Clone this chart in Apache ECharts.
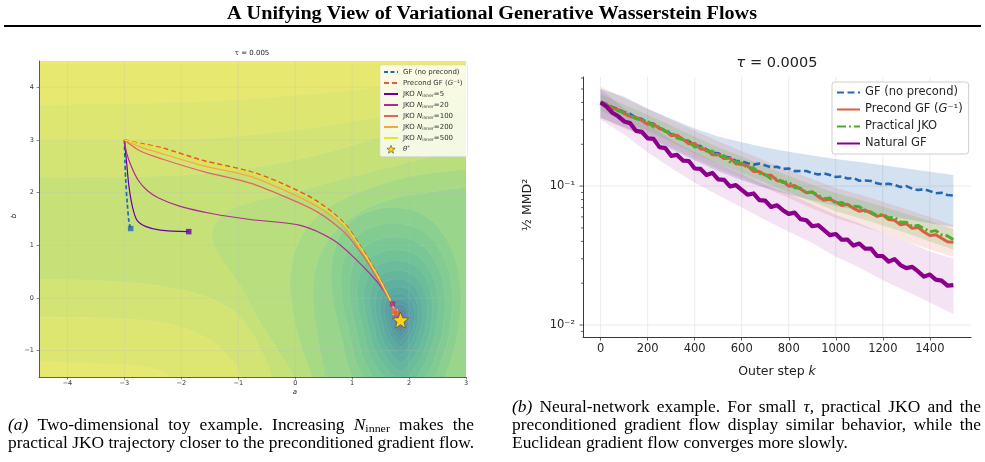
<!DOCTYPE html>
<html>
<head>
<meta charset="utf-8">
<title>A Unifying View of Variational Generative Wasserstein Flows</title>
<script src="https://cdn.jsdelivr.net/npm/echarts@6.0.0/dist/echarts.min.js"></script>
<style>
  html, body { margin: 0; padding: 0; background: #fff; }
  #chart { width: 985px; height: 462px; }
</style>
</head>
<body>
<div id="chart"></div>
<script>
// ---------- (a) toy example ----------
const toyTicksA = [-4, -3, -2, -1, 0, 1, 2, 3]
const toyTicksB = [-1, 0, 1, 2, 3, 4]
const thetaStar = [1.85, -0.42]

// trajectories, all start at theta0 = (-3, 3)
const pathGF = [[-3, 3], [-2.99, 2.6], [-2.975, 2.2], [-2.95, 1.8], [-2.92, 1.45], [-2.89, 1.32]]
const pathPrecond = [[-3, 3], [-2.7, 2.93], [-2.31, 2.84], [-1.61, 2.61], [-0.79, 2.4], [-0.2, 2.16], [0.38, 1.84], [0.85, 1.43], [1.14, 0.99], [1.43, 0.48], [1.67, -0.03], [1.78, -0.3]]
const pathJko5 = [[-3, 3], [-2.96, 2.56], [-2.92, 2.12], [-2.86, 1.74], [-2.78, 1.48], [-2.63, 1.36], [-2.37, 1.29], [-1.87, 1.26]]
const pathJko20 = [[-3, 3], [-2.96, 2.75], [-2.88, 2.5], [-2.76, 2.24], [-2.6, 2.04], [-2.4, 1.9], [-2.02, 1.74], [-1.45, 1.6], [-0.79, 1.49], [0.09, 1.38], [0.67, 1.1], [1.08, 0.72], [1.43, 0.32], [1.62, 0.04], [1.71, -0.11]]
const pathJko100 = [[-3, 3], [-2.72, 2.79], [-2.31, 2.63], [-1.61, 2.4], [-0.79, 2.18], [-0.2, 1.93], [0.38, 1.64], [0.85, 1.26], [1.14, 0.88], [1.43, 0.4], [1.66, -0.06], [1.74, -0.25]]
const pathJko200 = [[-3, 3], [-2.75, 2.88], [-2.31, 2.73], [-1.61, 2.51], [-0.79, 2.31], [-0.2, 2.05], [0.38, 1.74], [0.85, 1.36], [1.14, 0.94], [1.43, 0.44], [1.67, -0.05], [1.75, -0.26]]
const pathJko500 = [[-3, 3], [-2.7, 2.92], [-2.31, 2.82], [-1.61, 2.58], [-0.79, 2.38], [-0.2, 2.13], [0.38, 1.81], [0.85, 1.41], [1.14, 0.97], [1.43, 0.46], [1.67, -0.04], [1.76, -0.27]]

// filled contour regions of the loss surface, outer -> inner
const regionR9 = [[-6, 4.45], [5, 4.45], [5, -3], [-6, -3]]
const regionR8 = [[-6, 3.67], [-5.2, 3.67], [-4.6, 3.67], [-2, 3.72], [-0.8, 3.79], [1, 3.95], [3, 4.2], [3.6, 4.28], [4.2, 4.35], [5, 4.35], [5, -3], [-1.9, -3], [-2.05, -2.2], [-2.15, -1.8], [-2.2, -1.5], [-2.6, -1.32], [-3.5, -1.25], [-4.6, -1.21], [-5.2, -1.2], [-6, -1.2]]
const regionR7 = [[-6, 3.0], [-5.2, 3.0], [-4.6, 3.0], [-2, 3.02], [-0.8, 3.1], [1, 3.35], [2, 3.6], [3, 3.85], [3.6, 4.0], [4.2, 4.15], [5, 4.15], [5, -3], [-0.75, -3], [-0.85, -2.1], [-0.95, -1.5], [-1.1, -1.2], [-1.5, -0.8], [-2.2, -0.5], [-3, -0.4], [-4.6, -0.36], [-5.2, -0.35], [-6, -0.35]]
const regionR6 = [[-6, 2.29], [-5.2, 2.29], [-4.6, 2.29], [-2, 2.33], [-0.96, 2.44], [0.5, 2.75], [1.49, 3.07], [2.3, 3.35], [3, 3.6], [3.6, 3.8], [4.2, 3.95], [5, 3.95], [5, -3], [-0.2, -3], [-0.3, -2.1], [-0.41, -1.5], [-0.6, -1.0], [-0.9, -0.45], [-1.3, -0.1], [-2, 0.15], [-3, 0.3], [-4.6, 0.36], [-5.2, 0.37], [-6, 0.37]]
const regionR5 = [[0.2, -3], [0.1, -2.1], [-0.03, -1.5], [-0.3, -1.0], [-0.65, -0.4], [-1.0, 0.3], [-1.3, 0.75], [-1.46, 1.15], [-1.35, 1.5], [-1.0, 1.74], [0, 2.02], [1, 2.3], [2, 2.58], [3, 2.85], [3.6, 3.0], [4.2, 3.1], [5, 3.1], [5, -3]]
const regionR4 = [[0.5, -3], [0.4, -2.1], [0.29, -1.5], [0.1, -0.9], [-0.05, -0.2], [-0.08, 0.5], [0.1, 1.15], [0.5, 1.65], [1.1, 2.0], [2.0, 2.3], [3, 2.45], [3.6, 2.55], [4.2, 2.6], [5, 2.6], [5, -3]]
const regionR3 = [[0.7, -3], [0.62, -2.1], [0.53, -1.5], [0.4, -0.8], [0.32, -0.1], [0.35, 0.5], [0.55, 1.05], [0.95, 1.5], [1.6, 1.85], [2.3, 2.0], [3, 2.1], [3.6, 2.15], [4.2, 2.2], [5, 2.2], [5, -3]]
// inner teardrop contours around theta*: one shape, several sizes
const ringTemplate = [[0.05, -1.9], [0.45, -1.4], [0.74, -0.75], [0.9, 0.0], [0.9, 0.7], [0.72, 1.3], [0.4, 1.7], [0, 1.85], [-0.45, 1.8], [-0.82, 1.55], [-1.02, 1.1], [-1.05, 0.5], [-0.92, -0.2], [-0.75, -0.9], [-0.4, -1.5]]
const ringScale = [1.15, 0.99, 0.85, 0.72, 0.61, 0.51, 0.42, 0.34, 0.27, 0.21, 0.16, 0.12, 0.085, 0.055, 0.03]

// ---------- (b) neural-network example ----------
const stepTicks = [0, 200, 400, 600, 800, 1000, 1200, 1400]
const mmdMajorTicks = [0.01, 0.1]
const mmdMinorTicks = [0.009, 0.02, 0.03, 0.04, 0.05, 0.06, 0.07, 0.08, 0.09, 0.2, 0.3, 0.4, 0.5, 0.6]
const steps = [0, 25, 50, 75, 100, 125, 150, 175, 200, 225, 250, 275, 300, 325, 350, 375, 400, 425, 450, 475, 500, 525, 550, 575, 600, 625, 650, 675, 700, 725, 750, 775, 800, 825, 850, 875, 900, 925, 950, 975, 1000, 1025, 1050, 1075, 1100, 1125, 1150, 1175, 1200, 1225, 1250, 1275, 1300, 1325, 1350, 1375, 1400, 1425, 1450, 1475, 1500]
const gfLoss = [0.405, 0.390, 0.370, 0.3586, 0.340, 0.3315, 0.3118, 0.3037, 0.2871, 0.2807, 0.2612, 0.2541, 0.2364, 0.2324, 0.2163, 0.2106, 0.1960, 0.1942, 0.1839, 0.1741, 0.1726, 0.1629, 0.1608, 0.1517, 0.1512, 0.1463, 0.1427, 0.1451, 0.141, 0.1366, 0.1379, 0.1329, 0.134, 0.1282, 0.1285, 0.1286, 0.1238, 0.1214, 0.1233, 0.1203, 0.1162, 0.1174, 0.1133, 0.1144, 0.1093, 0.1098, 0.1088, 0.1050, 0.1029, 0.1040, 0.1019, 0.0984, 0.1000, 0.0958, 0.0938, 0.0950, 0.0920, 0.0889, 0.0896, 0.0862, 0.0855]
const precondLoss = [0.400, 0.387, 0.362, 0.355, 0.333, 0.317, 0.312, 0.297, 0.279, 0.281, 0.258, 0.251, 0.231, 0.232, 0.2165, 0.202, 0.203, 0.185, 0.183, 0.168, 0.169, 0.158, 0.159, 0.145, 0.143, 0.140, 0.1276, 0.1275, 0.120, 0.1197, 0.1094, 0.1083, 0.0999, 0.101, 0.0952, 0.0897, 0.0906, 0.0840, 0.0793, 0.0804, 0.0768, 0.0724, 0.0741, 0.0692, 0.066, 0.0672, 0.0639, 0.0607, 0.0618, 0.0574, 0.0567, 0.0527, 0.0536, 0.0497, 0.0504, 0.0467, 0.0441, 0.0447, 0.0421, 0.0397, 0.0394]
const jkoLoss = [0.400, 0.379, 0.370, 0.348, 0.338, 0.322, 0.306, 0.300, 0.291, 0.267, 0.266, 0.247, 0.245, 0.222, 0.2165, 0.211, 0.191, 0.1935, 0.179, 0.1785, 0.163, 0.1655, 0.1495, 0.150, 0.146, 0.1357, 0.1354, 0.1237, 0.121, 0.1127, 0.1138, 0.1061, 0.1075, 0.0973, 0.0967, 0.0895, 0.0908, 0.0858, 0.0811, 0.0822, 0.0747, 0.0764, 0.0722, 0.0716, 0.0711, 0.0657, 0.0651, 0.0614, 0.0627, 0.0591, 0.0596, 0.0551, 0.0550, 0.0512, 0.0521, 0.0495, 0.0470, 0.0478, 0.0445, 0.0438, 0.0412]
const naturalLoss = [0.400, 0.374, 0.337, 0.318, 0.292, 0.284, 0.250, 0.2455, 0.2205, 0.2188, 0.1908, 0.1876, 0.1651, 0.1677, 0.1526, 0.1516, 0.1339, 0.1329, 0.1204, 0.1244, 0.1117, 0.1108, 0.0994, 0.1017, 0.094, 0.0867, 0.0885, 0.0793, 0.0785, 0.0708, 0.0728, 0.0671, 0.0631, 0.0644, 0.0578, 0.0568, 0.0514, 0.0523, 0.0482, 0.0444, 0.0452, 0.0411, 0.0412, 0.0373, 0.0386, 0.0354, 0.0355, 0.0315, 0.0313, 0.0286, 0.0298, 0.0270, 0.0257, 0.0262, 0.0243, 0.0223, 0.0231, 0.0212, 0.0209, 0.0192, 0.0194]

// shaded spread (every 100 steps)
const bandSteps = [0, 100, 200, 300, 400, 500, 600, 700, 800, 900, 1000, 1100, 1200, 1300, 1400, 1500]
const gfUpper = [0.50, 0.44, 0.36, 0.305, 0.26, 0.228, 0.207, 0.19, 0.177, 0.166, 0.157, 0.149, 0.141, 0.134, 0.127, 0.120]
const gfLower = [0.31, 0.265, 0.225, 0.185, 0.153, 0.128, 0.110, 0.097, 0.087, 0.079, 0.072, 0.067, 0.062, 0.058, 0.054, 0.051]
const precondUpper = [0.52, 0.43, 0.36, 0.30, 0.25, 0.21, 0.178, 0.152, 0.13, 0.112, 0.097, 0.087, 0.077, 0.068, 0.060, 0.052]
const precondLower = [0.31, 0.26, 0.225, 0.19, 0.158, 0.133, 0.114, 0.097, 0.082, 0.069, 0.059, 0.052, 0.046, 0.040, 0.035, 0.031]
const jkoUpper = [0.46, 0.385, 0.325, 0.272, 0.227, 0.19, 0.163, 0.139, 0.118, 0.102, 0.089, 0.08, 0.071, 0.063, 0.056, 0.049]
const jkoLower = [0.35, 0.29, 0.25, 0.208, 0.172, 0.145, 0.125, 0.106, 0.09, 0.077, 0.066, 0.059, 0.052, 0.046, 0.040, 0.035]
const naturalUpper = [0.50, 0.36, 0.28, 0.215, 0.175, 0.145, 0.122, 0.102, 0.088, 0.074, 0.062, 0.054, 0.046, 0.040, 0.034, 0.030]
const naturalLower = [0.30, 0.235, 0.175, 0.135, 0.106, 0.086, 0.07, 0.057, 0.047, 0.039, 0.031, 0.026, 0.021, 0.0175, 0.0145, 0.012]

// ---------- styles ----------
const regionColors = ['#e6e86f', '#dee672', '#d3e475', '#c7e179', '#b8de7e', '#a8da84', '#99d58a']
const ringColors = ['#8bd08e', '#82cc91', '#79c794', '#71c297', '#6abc9a', '#64b69c', '#5fb09e', '#5baa9f', '#58a3a0', '#569ca1', '#5794a2', '#5a8aa3', '#5f7ea3', '#6570a1', '#6a629c']
const C = { blue: '#2468b2', red: '#e05a44', green: '#4aae2a', purple: '#8b008b', jko5: '#6a00a8', jko20: '#b12a90', jko100: '#e16462', jko200: '#fca636', jko500: '#f0e21e', star: '#ffd31a' }
const SANS = 'DejaVu Sans'
const SERIF = 'Liberation Serif'
const STAR = 'path://M12,1 L14.9,8.6 L23,9.2 L16.8,14.4 L18.8,22.5 L12,18 L5.2,22.5 L7.2,14.4 L1,9.2 L9.1,8.6 Z'
const starStyle = { color: C.star, borderColor: '#333', borderWidth: 0.5, opacity: 1 }

const regions = [regionR9, regionR8, regionR7, regionR6, regionR5, regionR4, regionR3]
const rings = ringScale.map(s => ringTemplate.map(p => [thetaStar[0] + s * p[0], thetaStar[1] + s * p[1]]))
const contourShapes = regions.concat(rings)
const contourColors = regionColors.concat(ringColors)

const minus = v => String(v).replace('-', '\u2212')
const supDigits = { '-': '\u207b', '1': '\u00b9', '2': '\u00b2', '3': '\u00b3' }
const powLabel = v => {
  const e = Math.log10(v)
  if (Math.abs(e - Math.round(e)) > 1e-6) return ''
  return '10' + String(Math.round(e)).split('').map(c => supDigits[c]).join('')
}
const pairs = (xs, ys) => xs.map((x, i) => [x, ys[i]])

const chart = echarts.init(document.getElementById('chart'))

function contourItem(params, api) {
  const i = params.dataIndex
  return {
    type: 'polygon',
    shape: { points: contourShapes[i].map(p => api.coord(p)), smooth: i === 0 ? 0 : 0.4 },
    style: { fill: contourColors[i], stroke: 'rgba(255,255,255,0.12)', lineWidth: 0.6 }
  }
}

function gridItem(xr, yr, color, width) {
  return function (params, api) {
    const horiz = api.value(2) === 1
    const w = horiz ? api.value(1) : api.value(0)
    const p1 = horiz ? api.coord([xr[0], w]) : api.coord([w, yr[0]])
    const p2 = horiz ? api.coord([xr[1], w]) : api.coord([w, yr[1]])
    return { type: 'line', shape: { x1: p1[0], y1: p1[1], x2: p2[0], y2: p2[1] }, style: { stroke: color, lineWidth: width } }
  }
}

function bandItem(upper, lower, color) {
  return function (params, api) {
    const pts = []
    bandSteps.forEach((k, i) => pts.push(api.coord([k, upper[i]])))
    for (let i = bandSteps.length - 1; i >= 0; i--) pts.push(api.coord([bandSteps[i], lower[i]]))
    return { type: 'polygon', shape: { points: pts }, style: { fill: color } }
  }
}

function tickItem(params, api) {
  const p = api.coord([-75, api.value(1)])
  const len = api.value(2) === 1 ? 3.5 : 2
  return { type: 'line', shape: { x1: p[0] - len, y1: p[1], x2: p[0], y2: p[1] }, style: { stroke: '#3a3a3a', lineWidth: 0.8 } }
}

const pathLine = (name, path, color, width, dash, z) => ({
  name, type: 'line', xAxisIndex: 0, yAxisIndex: 0, data: path, smooth: 0.3, symbol: 'none', z,
  lineStyle: { color, width, type: dash || 'solid' }, itemStyle: { color }
})
const lossLine = (name, ys, color, width, dash, z) => ({
  name, type: 'line', xAxisIndex: 1, yAxisIndex: 1, data: pairs(steps, ys), symbol: 'none', z,
  lineStyle: { color, width, type: dash || 'solid', join: 'round' }, itemStyle: { color }
})

const legendLabels = {
  gfA: '{t|GF (no precond)}', preA: '{t|Precond GF (}{i|G}{t|\u207b\u00b9)}',
  jko5: '{t|JKO }{i|N}{s|inner}{t|=5}', jko20: '{t|JKO }{i|N}{s|inner}{t|=20}',
  jko100: '{t|JKO }{i|N}{s|inner}{t|=100}', jko200: '{t|JKO }{i|N}{s|inner}{t|=200}',
  jko500: '{t|JKO }{i|N}{s|inner}{t|=500}', star: '{i|\u03b8}{p|*}',
  gfB: '{t|GF (no precond)}', preB: '{t|Precond GF (}{i|G}{t|\u207b\u00b9)}',
  jkoB: '{t|Practical JKO}', natB: '{t|Natural GF}'
}
const hiddenMark = { opacity: 0 }

const last = a => a[a.length - 1]

// ---------- title and captions (justified like the paper) ----------
const CAP = 16
const serifFonts = { n: CAP + 'px "' + SERIF + '"', i: 'italic ' + CAP + 'px "' + SERIF + '"', s: (CAP - 5) + 'px "' + SERIF + '"' }
const captionLines = [
  { x: 8, y: 426, w: 466, justify: true, runs: [['i', '(a)'], ['n', ' Two-dimensional toy example. Increasing '], ['i', 'N'], ['s', 'inner'], ['n', ' makes the']] },
  { x: 8, y: 444, w: 466, justify: true, runs: [['n', 'practical JKO trajectory closer to the preconditioned gradient flow.']] },
  { x: 512, y: 408, w: 469, justify: true, runs: [['i', '(b)'], ['n', ' Neural-network example. For small '], ['i', '\u03c4'], ['n', ', practical JKO and the']] },
  { x: 512, y: 426, w: 469, justify: true, runs: [['n', 'preconditioned gradient flow display similar behavior, while the']] },
  { x: 512, y: 444, w: 0, justify: false, runs: [['n', 'Euclidean gradient flow converges more slowly.']] }
]
const measureCtx = document.createElement('canvas').getContext('2d')
const runW = r => { measureCtx.font = serifFonts[r[0]]; return measureCtx.measureText(r[1]).width }
function splitWords(runs) {
  const words = [[]]
  runs.forEach(r => r[1].split(' ').forEach((part, j) => {
    if (j > 0) words.push([])
    if (part) last(words).push([r[0], part])
  }))
  return words.filter(w => w.length)
}
// horizontal squeeze of the serif face, fixed by the last line of (a) which fills its column
const capScale = 466 / captionLines[1].runs.reduce((s, r) => s + runW(r), 0)
measureCtx.font = serifFonts.n
const spaceW = measureCtx.measureText(' ').width * capScale
const captionRich = {
  n: { fontFamily: SERIF, fontSize: CAP, lineHeight: 18, verticalAlign: 'middle' },
  i: { fontFamily: SERIF, fontSize: CAP, fontStyle: 'italic', lineHeight: 18, verticalAlign: 'middle' },
  s: { fontFamily: SERIF, fontSize: CAP - 5, lineHeight: 9, verticalAlign: 'bottom' }
}
const captionGraphics = []
captionLines.forEach(line => {
  const words = splitWords(line.runs)
  const widths = words.map(w => w.reduce((s, r) => s + runW(r), 0) * capScale)
  const total = widths.reduce((a, b) => a + b, 0)
  const gap = line.justify ? (line.w - total) / (words.length - 1) : spaceW
  let cx = line.x
  words.forEach((w, k) => {
    captionGraphics.push({
      type: 'text', x: cx, y: line.y, scaleX: capScale, z: 100,
      style: {
        text: w.map(r => '{' + r[0] + '|' + r[1] + '}').join(''), x: 0, y: 0,
        align: 'left', textAlign: 'left', verticalAlign: 'middle', textVerticalAlign: 'middle', fill: '#000', rich: captionRich
      }
    })
    cx += widths[k] + gap
  })
})
measureCtx.font = 'bold 18px "' + SERIF + '"'
const titleText = 'A Unifying View of Variational Generative Wasserstein Flows'
const titleScale = 530 / measureCtx.measureText(titleText).width

const centred = { x: 0, y: 0, align: 'center', textAlign: 'center', verticalAlign: 'middle', textVerticalAlign: 'middle' }

const option = {
  animation: false,
  backgroundColor: '#fff',
  textStyle: { fontFamily: SANS },
  grid: [
    { left: 39, top: 61, width: 427, height: 316, show: true, backgroundColor: '#ebea6c', borderWidth: 0, outerBoundsMode: 'none' },
    { left: 583, top: 77, width: 388, height: 260, outerBoundsMode: 'none' }
  ],
  xAxis: [
    {
      gridIndex: 0, type: 'value', min: -4.5, max: 3, z: 10,
      axisLine: { show: true, onZero: false, lineStyle: { color: '#3a3a3a', width: 0.8 } },
      axisTick: { show: true, customValues: toyTicksA, length: 2.5, lineStyle: { color: '#3a3a3a', width: 0.6 } },
      axisLabel: { customValues: toyTicksA, formatter: minus, fontSize: 6.5, color: '#333', margin: 3, fontFamily: SANS },
      splitLine: { show: false }
    },
    {
      gridIndex: 1, type: 'value', min: -75, max: 1575, z: 10,
      axisLine: { show: true, onZero: false, lineStyle: { color: '#3a3a3a', width: 1 } },
      axisTick: { show: true, customValues: stepTicks, length: 3.5, lineStyle: { color: '#3a3a3a', width: 0.8 } },
      axisLabel: { customValues: stepTicks, formatter: v => String(v), fontSize: 11.5, color: '#262626', margin: 6, fontFamily: SANS },
      splitLine: { show: false }
    }
  ],
  yAxis: [
    {
      gridIndex: 0, type: 'value', min: -1.5, max: 4.5, z: 10,
      axisLine: { show: true, onZero: false, lineStyle: { color: '#3a3a3a', width: 0.8 } },
      axisTick: { show: true, customValues: toyTicksB, length: 2.5, lineStyle: { color: '#3a3a3a', width: 0.6 } },
      axisLabel: { customValues: toyTicksB, formatter: minus, fontSize: 6.5, color: '#333', margin: 5, fontFamily: SANS },
      splitLine: { show: false }
    },
    {
      gridIndex: 1, type: 'log', logBase: 10, min: 0.0082, max: 0.61, z: 10,
      axisLine: { show: true, onZero: false, lineStyle: { color: '#3a3a3a', width: 1 } },
      axisTick: { show: false }, minorTick: { show: false },
      axisLabel: { formatter: powLabel, fontSize: 11.5, color: '#262626', margin: 8, fontFamily: SANS },
      splitLine: { show: false }, minorSplitLine: { show: false }
    }
  ],
  legend: [
    {
      data: ['gfA', 'preA', 'jko5', 'jko20', 'jko100', 'jko200', 'jko500', { name: 'star', itemStyle: starStyle }],
      orient: 'vertical', left: 380, top: 65, itemWidth: 14, itemHeight: 8, itemGap: 3,
      padding: [3, 5, 3, 3], backgroundColor: 'rgba(255,255,255,0.8)', borderColor: '#d8d8d8', borderWidth: 0.6, borderRadius: 2,
      itemStyle: hiddenMark,
      formatter: n => legendLabels[n],
      textStyle: {
        color: '#333', fontSize: 7, lineHeight: 8,
        rich: {
          t: { fontFamily: SANS, fontSize: 7, lineHeight: 8, color: '#333' },
          i: { fontFamily: SANS, fontSize: 7, lineHeight: 8, fontStyle: 'italic', color: '#333' },
          s: { fontFamily: SANS, fontSize: 4.5, lineHeight: 5, verticalAlign: 'bottom', color: '#333' },
          p: { fontFamily: SANS, fontSize: 5, lineHeight: 5, verticalAlign: 'top', color: '#333' }
        }
      }
    },
    {
      data: ['gfB', 'preB', 'jkoB', 'natB'],
      orient: 'vertical', left: 832, top: 82, itemWidth: 23, itemHeight: 10, itemGap: 4,
      padding: [4, 6, 4, 4], backgroundColor: 'rgba(255,255,255,0.85)', borderColor: '#cfcfcf', borderWidth: 1, borderRadius: 3,
      itemStyle: hiddenMark,
      formatter: n => legendLabels[n],
      textStyle: {
        color: '#262626', fontSize: 11.5, lineHeight: 13,
        rich: {
          t: { fontFamily: SANS, fontSize: 11.5, lineHeight: 13, color: '#262626' },
          i: { fontFamily: SANS, fontSize: 11.5, lineHeight: 13, fontStyle: 'italic', color: '#262626' }
        }
      }
    }
  ],
  graphic: [
    {
      type: 'text', x: 492, y: 14, scaleX: titleScale, z: 100,
      style: Object.assign({ text: titleText, font: 'bold 18px "' + SERIF + '"', fill: '#000' }, centred)
    },
    { type: 'line', z: 100, shape: { x1: 4, y1: 26, x2: 981, y2: 26 }, style: { stroke: '#000', lineWidth: 2 } },
    { type: 'text', x: 252, y: 53, z: 100, style: Object.assign({ text: '\u03c4 = 0.005', font: '7px "' + SANS + '"', fill: '#222' }, centred) },
    { type: 'text', x: 295, y: 392, z: 100, style: Object.assign({ text: 'a', font: 'italic 7px "' + SANS + '"', fill: '#222' }, centred) },
    { type: 'text', x: 14, y: 216, rotation: Math.PI / 2, z: 100, style: Object.assign({ text: 'b', font: 'italic 7px "' + SANS + '"', fill: '#222' }, centred) },
    {
      type: 'text', x: 777, y: 63, z: 100,
      style: Object.assign({
        text: '{i|\u03c4}{n| = 0.0005}', fill: '#222',
        rich: { i: { fontFamily: SANS, fontSize: 14.5, fontStyle: 'italic' }, n: { fontFamily: SANS, fontSize: 14.5 } }
      }, centred)
    },
    {
      type: 'text', x: 777, y: 372, z: 100,
      style: Object.assign({
        text: '{n|Outer step }{i|k}', fill: '#222',
        rich: { i: { fontFamily: SANS, fontSize: 12.5, fontStyle: 'italic' }, n: { fontFamily: SANS, fontSize: 12.5 } }
      }, centred)
    },
    { type: 'text', x: 528, y: 205, rotation: Math.PI / 2, z: 100, style: Object.assign({ text: '\u00bd MMD\u00b2', font: '12.5px "' + SANS + '"', fill: '#222' }, centred) }
  ].concat(captionGraphics),
  series: [
    // ---- (a) ----
    {
      type: 'custom', xAxisIndex: 0, yAxisIndex: 0, clip: true, silent: true, z: 1,
      data: contourShapes.map((s, i) => [i, 0]), renderItem: contourItem
    },
    {
      type: 'custom', xAxisIndex: 0, yAxisIndex: 0, clip: true, silent: true, z: 1.5,
      data: toyTicksA.map(v => [v, 0, 0]).concat(toyTicksB.map(v => [0, v, 1])),
      renderItem: gridItem([-4.5, 3], [-1.5, 4.5], 'rgba(190,190,190,0.35)', 0.7)
    },
    pathLine('gfA', pathGF, C.blue, 1.7, [4, 2.5], 3),
    pathLine('preA', pathPrecond, C.red, 1.8, [5, 3], 3),
    pathLine('jko5', pathJko5, C.jko5, 1.2, null, 4),
    pathLine('jko20', pathJko20, C.jko20, 1.2, null, 4),
    pathLine('jko100', pathJko100, C.jko100, 1.2, null, 4),
    pathLine('jko200', pathJko200, C.jko200, 1.2, null, 4),
    pathLine('jko500', pathJko500, C.jko500, 1.2, null, 4),
    {
      type: 'scatter', xAxisIndex: 0, yAxisIndex: 0, symbol: 'rect', symbolSize: 5.5, z: 5, silent: true,
      data: [
        { value: last(pathGF), itemStyle: { color: C.blue } },
        { value: last(pathJko5), itemStyle: { color: C.jko5 } },
        { value: last(pathJko500), itemStyle: { color: C.jko500 } },
        { value: last(pathJko200), itemStyle: { color: C.jko200 } },
        { value: last(pathJko100), itemStyle: { color: C.jko100 } },
        { value: last(pathJko20), itemStyle: { color: C.jko20 } },
        { value: last(pathPrecond), itemStyle: { color: C.red } }
      ]
    },
    {
      name: 'star', type: 'scatter', xAxisIndex: 0, yAxisIndex: 0, symbol: STAR, symbolSize: 16, z: 6,
      data: [thetaStar], itemStyle: starStyle
    },
    // ---- (b) ----
    {
      type: 'custom', xAxisIndex: 1, yAxisIndex: 1, clip: true, silent: true, z: 1,
      data: stepTicks.map(v => [v, 0.1, 0]).concat(mmdMajorTicks.map(v => [0, v, 1])),
      renderItem: gridItem([-75, 1575], [0.0082, 0.61], '#ebebeb', 1)
    },
    { type: 'custom', xAxisIndex: 1, yAxisIndex: 1, clip: true, silent: true, z: 2, data: [[0, 0.1]], renderItem: bandItem(gfUpper, gfLower, 'rgba(36,104,178,0.2)') },
    { type: 'custom', xAxisIndex: 1, yAxisIndex: 1, clip: true, silent: true, z: 2, data: [[0, 0.1]], renderItem: bandItem(precondUpper, precondLower, 'rgba(224,90,68,0.15)') },
    { type: 'custom', xAxisIndex: 1, yAxisIndex: 1, clip: true, silent: true, z: 2, data: [[0, 0.1]], renderItem: bandItem(jkoUpper, jkoLower, 'rgba(74,174,42,0.17)') },
    { type: 'custom', xAxisIndex: 1, yAxisIndex: 1, clip: true, silent: true, z: 2, data: [[0, 0.1]], renderItem: bandItem(naturalUpper, naturalLower, 'rgba(160,40,160,0.13)') },
    lossLine('gfB', gfLoss, C.blue, 2.6, [7, 3.5], 3),
    lossLine('preB', precondLoss, C.red, 3, null, 3),
    lossLine('jkoB', jkoLoss, C.green, 3, [9, 3, 2, 3], 3),
    lossLine('natB', naturalLoss, C.purple, 4.2, null, 4),
    {
      type: 'custom', xAxisIndex: 1, yAxisIndex: 1, silent: true, z: 10,
      data: mmdMajorTicks.map(v => [0, v, 1]).concat(mmdMinorTicks.map(v => [0, v, 0])),
      renderItem: tickItem
    }
  ]
}

chart.setOption(option)
</script>
</body>
</html>
